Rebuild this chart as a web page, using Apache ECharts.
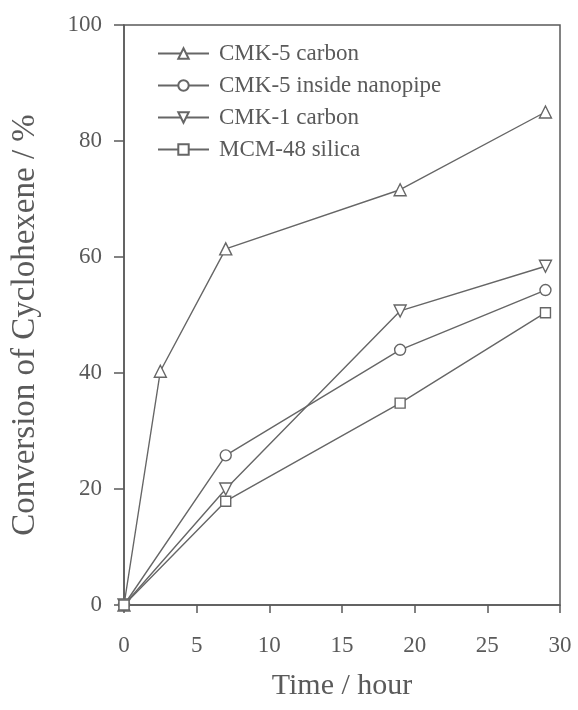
<!DOCTYPE html>
<html>
<head>
<meta charset="utf-8">
<script src="https://cdn.jsdelivr.net/npm/echarts@6/dist/echarts.min.js"></script>
<style>
html,body{margin:0;padding:0;background:#fff;}
#chart{width:578px;height:710px;}
</style>
</head>
<body>
<div id="chart"></div>
<script>
var seriesNames = ['CMK-5 carbon', 'CMK-5 inside nanopipe', 'CMK-1 carbon', 'MCM-48 silica'];
var cmk5Time = [0, 2.5, 7, 19, 29];
var cmk5Conv = [0, 40.3, 61.4, 71.6, 85.0];
var nanopipeTime = [0, 7, 19, 29];
var nanopipeConv = [0, 25.8, 44.0, 54.3];
var cmk1Time = [0, 7, 19, 29];
var cmk1Conv = [0, 20.0, 50.7, 58.4];
var mcm48Time = [0, 7, 19, 29];
var mcm48Conv = [0, 17.9, 34.8, 50.4];
var xTicks = [0, 5, 10, 15, 20, 25, 30];
var yTicks = [0, 20, 40, 60, 80, 100];

function pairs(xs, ys) { return xs.map(function (x, i) { return [x, ys[i]]; }); }

var ink = '#5a5a5a';
var lineCol = '#666';
var font = 'Liberation Serif';

function mk(name, data, symbol, size, rot) {
  return {
    name: name, type: 'line', data: data,
    symbol: symbol, symbolSize: size, symbolRotate: rot || 0,
    showAllSymbol: true,
    lineStyle: { color: lineCol, width: 1.4 },
    itemStyle: { color: '#fff', borderColor: lineCol, borderWidth: 1.4 },
    emphasis: { disabled: true },
    animation: false
  };
}

var chart = echarts.init(document.getElementById('chart'));
chart.setOption({
  backgroundColor: '#fff',
  animation: false,
  grid: { left: 124, right: 18, top: 25, bottom: 105, show: true, borderColor: ink, borderWidth: 1.5, backgroundColor: 'transparent' },
  legend: {
    orient: 'vertical', left: 152, top: 37,
    itemWidth: 51, itemHeight: 13, itemGap: 9,
    textStyle: { fontFamily: font, fontSize: 23, color: ink, padding: [0, 0, 0, 5] },
    data: seriesNames
  },
  xAxis: {
    type: 'value', min: 0, max: 30, interval: 5,
    name: 'Time / hour', nameLocation: 'middle', nameGap: 66,
    nameTextStyle: { fontFamily: font, fontSize: 30, color: ink },
    axisLine: { show: true, lineStyle: { color: ink, width: 1.5 } },
    axisTick: { show: true, inside: false, length: 8, lineStyle: { color: ink, width: 1.5 } },
    axisLabel: { fontFamily: font, fontSize: 23, color: ink, margin: 29,
      formatter: function (v) { return xTicks.indexOf(v) >= 0 ? String(v) : ''; } },
    splitLine: { show: false }
  },
  yAxis: {
    type: 'value', min: 0, max: 100, interval: 20,
    name: 'Conversion of Cyclohexene / %', nameLocation: 'middle', nameGap: 82,
    nameTextStyle: { fontFamily: font, fontSize: 33, color: ink, padding: [0, 20, 0, 0] },
    axisLine: { show: true, lineStyle: { color: ink, width: 1.5 } },
    axisTick: { show: true, inside: false, length: 10, lineStyle: { color: ink, width: 1.5 } },
    axisLabel: { fontFamily: font, fontSize: 23, color: ink, margin: 22,
      formatter: function (v) { return yTicks.indexOf(v) >= 0 ? String(v) : ''; } },
    splitLine: { show: false }
  },
  series: [
    mk(seriesNames[0], pairs(cmk5Time, cmk5Conv), 'triangle', 12, 0),
    mk(seriesNames[1], pairs(nanopipeTime, nanopipeConv), 'circle', 11, 0),
    mk(seriesNames[2], pairs(cmk1Time, cmk1Conv), 'triangle', 12, 180),
    mk(seriesNames[3], pairs(mcm48Time, mcm48Conv), 'rect', 10, 0)
  ]
});
</script>
</body>
</html>
